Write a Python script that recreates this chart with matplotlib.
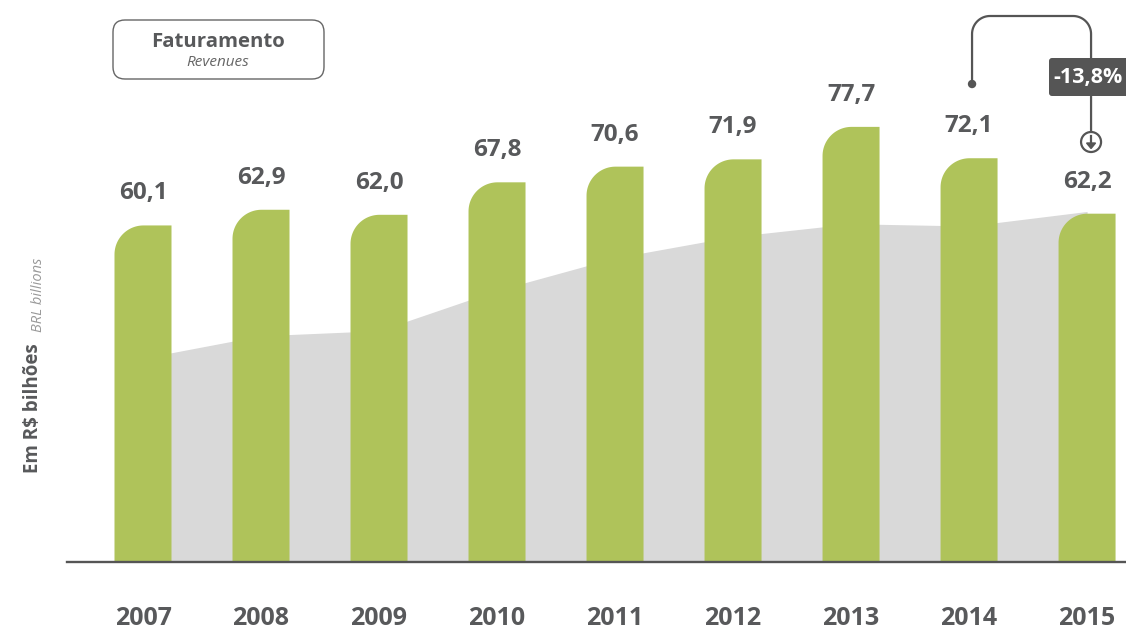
import numpy as np
import matplotlib
matplotlib.use("Agg")
import matplotlib.pyplot as plt
from matplotlib.patches import FancyBboxPatch, Circle, Polygon

years = ["2007", "2008", "2009", "2010", "2011", "2012", "2013", "2014", "2015"]
revenues = [60.1, 62.9, 62.0, 67.8, 70.6, 71.9, 77.7, 72.1, 62.2]
labels = ["60,1", "62,9", "62,0", "67,8", "70,6", "71,9", "77,7", "72,1", "62,2"]
background_area = [36.4, 40.4, 41.3, 48.5, 54.3, 58.1, 60.4, 60.0, 62.6]
change_label = "-13,8%"

GREEN = "#afc35a"
GREY = "#d9d9d9"
DARK = "#58595b"
W, H = 1126, 630

plt.rcParams['font.family'] = ['Open Sans', 'DejaVu Sans']

fig = plt.figure(figsize=(W / 100, H / 100), dpi=100)
ax = fig.add_axes([67 / W, (H - 562) / H, 1 - 67 / W, 562 / H])
ax.set_xlim(-0.644, 8.33)
ax.set_ylim(0, 562 / 5.6)
for s in ["top", "right", "left"]:
    ax.spines[s].set_visible(False)
ax.spines["bottom"].set_color("#555555")
ax.spines["bottom"].set_linewidth(1.7)
ax.spines["bottom"].set_zorder(5)
ax.set_yticks([])
ax.set_xticks([])

x = np.arange(len(years))
ax.fill_between(x, background_area, 0, color=GREY, lw=0, zorder=1)

# pixel -> data scale for rounded corners
fig.canvas.draw()
p0 = ax.transData.transform((0, 0))
p1 = ax.transData.transform((1, 1))
sx = p1[0] - p0[0]
sy = p1[1] - p0[1]
r_px = 29
rx, ry = r_px / sx, r_px / sy
bw = 0.483

for xi, v in zip(x, revenues):
    x0, x1 = xi - bw / 2, xi + bw / 2
    t = np.linspace(np.pi / 2, np.pi, 30)
    cx, cy = x0 + rx, v - ry
    arc = np.column_stack([cx + rx * np.cos(t), cy + ry * np.sin(t)])
    verts = np.vstack([[x0, 0], [x1, 0], [x1, v], arc, [x0, 0]])
    ax.add_patch(Polygon(verts, closed=True, facecolor=GREEN, edgecolor='none', zorder=2))
    ax.annotate(labels[int(xi)], xy=(xi, v), xytext=(0, 26 * 0.72), textcoords='offset points',
                ha='center', va='baseline', fontsize=17.5, fontweight='bold', color=DARK)
    ax.annotate(years[int(xi)], xy=(xi, 0), xytext=(0, -63 * 0.72), textcoords='offset points',
                ha='center', va='baseline', fontsize=18, fontweight='bold', color=DARK,
                annotation_clip=False)

# helper: pixel coords (from top-left) -> inches
tr = fig.dpi_scale_trans
def P(xp, yp):
    return (xp / 100, (H - yp) / 100)

# title box
box = FancyBboxPatch(P(113, 79), 2.11, 0.59, boxstyle="round,pad=0,rounding_size=0.12",
                     transform=tr, facecolor='white', edgecolor='#666666', lw=1.0)
fig.patches.append(box)
fig.text(*P(218, 42), "Faturamento", transform=tr, ha='center', va='center',
         fontsize=14.7, fontweight='bold', color=DARK)
fig.text(*P(218, 63), "Revenues", transform=tr, ha='center', va='center',
         fontsize=11, style='italic', color='#666666')

# y label
fig.text(*P(33, 473), "Em R$ bilhões", transform=tr, rotation=90, rotation_mode='anchor',
         ha='left', va='center', fontsize=13.5, fontweight='bold', color=DARK)
fig.text(*P(38, 332), "BRL billions", transform=tr, rotation=90, rotation_mode='anchor',
         ha='left', va='center', fontsize=10.5, style='italic', color='#999999')

# change annotation
r = 18
xa = ax.transData.transform((7, 0))[0] + 3
xb = ax.transData.transform((8, 0))[0] + 4
ytop = 16
t1 = np.linspace(np.pi, np.pi / 2, 20)
t2 = np.linspace(np.pi / 2, 0, 20)
pts = [(xa, 84), (xa, ytop + r)]
pts += [(xa + r + r * np.cos(a), ytop + r - r * np.sin(a)) for a in t1]
pts += [(xb - r + r * np.cos(a), ytop + r - r * np.sin(a)) for a in t2]
pts += [(xb, 132)]
pts_in = [P(px, py) for px, py in pts]
fig.lines.append(plt.Line2D([p[0] for p in pts_in], [p[1] for p in pts_in], transform=tr,
                            color='#555555', lw=1.6, solid_capstyle='round'))
fig.patches.append(Circle(P(xa, 84), 0.035, transform=tr, color='#555555'))
fig.patches.append(Circle(P(xb, 142), 0.10, transform=tr, facecolor='white',
                          edgecolor='#555555', lw=1.6))
fig.lines.append(plt.Line2D([P(xb, 136)[0], P(xb, 145)[0]], [P(xb, 136)[1], P(xb, 145)[1]],
                            transform=tr, color='#555555', lw=1.6))
fig.patches.append(Polygon([P(xb - 4.5, 143), P(xb + 4.5, 143), P(xb, 148.5)], closed=True,
                           transform=tr, color='#555555'))
fig.patches.append(FancyBboxPatch(P(1049, 96), 0.82, 0.38, boxstyle="round,pad=0,rounding_size=0.03",
                                  transform=tr, facecolor='#555555', edgecolor='none'))
fig.text(*P(1088, 77), change_label, transform=tr, ha='center', va='center',
         fontsize=15.5, fontweight='bold', color='white')

fig.savefig("out.png", dpi=100, facecolor='white')
